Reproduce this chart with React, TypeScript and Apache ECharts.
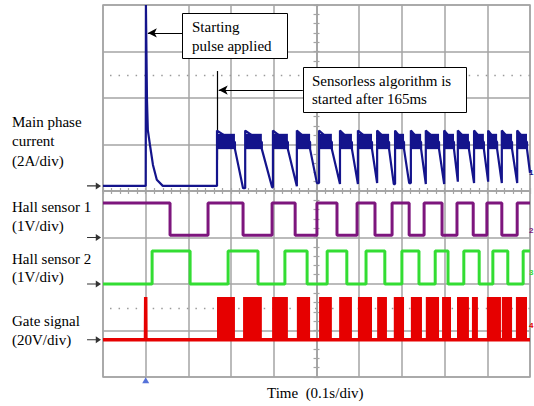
import React, { useEffect, useRef } from "react";
import * as echarts from "echarts";

// Time axis in ms (0.1 s/div, 10 div), vertical axis in divisions (0..8)
const timeTicksMs = [0, 100, 200, 300, 400, 500, 600, 700, 800, 900, 1000];

// Channel 1 – main phase current (blue)
const blueBase = 4.11;
const spikeT = [100, 100.5, 103, 105, 110, 117, 126, 140];
const spikeV = [4.11, 8, 5.96, 5.31, 4.99, 4.56, 4.24, 4.11];
const pulseStart = [267, 333, 398, 454, 506, 555, 597, 642, 684, 721, 756, 799, 831, 869, 902, 934, 970];
const pulseEnd = [309, 372, 433, 485, 536, 583, 630, 670, 705, 745, 787, 822, 857, 892, 923, 958, 993];
const decayEnd = [328, 396, 454, 501, 555, 597, 642, 681, 717, 756, 799, 831, 869, 902, 934, 970, 1000];
const decayBottom = [4.06, 4.08, 4.1, 4.17, 4.15, 4.15, 4.17, 4.15, 4.17, 4.15, 4.15, 4.2, 4.17, 4.2, 4.17, 4.17, 4.39];
const pulsePeak = 5.3;
const pulseBandHigh = 5.23;
const pulseBandLow = 4.9;

// Channel 2 – Hall sensor 1 (purple), starts high
const purpleHigh = 3.74;
const purpleLow = 3.05;
const purpleEdges = [157, 246, 328, 396, 450, 501, 548, 595, 637, 677, 717, 752, 794, 829, 867, 899, 934, 970];

// Channel 3 – Hall sensor 2 (green), starts low
const greenHigh = 2.71;
const greenLow = 2.0;
const greenEdges = [115, 204, 293, 363, 426, 478, 525, 571, 616, 660, 700, 740, 778, 808, 845, 881, 913, 948, 984];

// Channel 4 – gate signal (red)
const redBase = 0.8;
const redTop = 1.72;
const redBurstStart = [267, 328, 396, 454, 506, 553, 597, 642, 681, 721, 756, 794, 829, 864, 899, 934, 967];
const redBurstEnd = [309, 372, 433, 485, 536, 583, 630, 665, 705, 747, 787, 815, 857, 878, 932, 958, 993];

// ground-level markers (left arrows) and dotted reference levels
const groundLevels = [blueBase, 3.0, 2.0, redBase];
const dottedLevels = [6.5, 1.48];

const BLUE = "#14148c";
const PURPLE = "#7d167d";
const GREEN = "#33dd33";
const RED = "#e60000";
const GRID = "#a4a4a4";
const FONT = "Liberation Serif";

function stepTrace(edges: number[], startHigh: boolean, hi: number, lo: number) {
  const pts: number[][] = [];
  let level = startHigh ? hi : lo;
  pts.push([0, level]);
  edges.forEach((t) => {
    pts.push([t, level]);
    level = level === hi ? lo : hi;
    pts.push([t, level]);
  });
  pts.push([1000, level]);
  return pts;
}

function blueTrace() {
  const pts: number[][] = [[0, blueBase]];
  spikeT.forEach((t, i) => pts.push([t, spikeV[i]]));
  pulseStart.forEach((s, i) => {
    const prev = i === 0 ? blueBase : decayBottom[i - 1];
    pts.push([s, prev]);
    pts.push([s, pulsePeak]);
    pts.push([pulseEnd[i], 5.05]);
    pts.push([pulseEnd[i], pulseBandLow]);
    pts.push([decayEnd[i], decayBottom[i]]);
  });
  return pts;
}

function redTrace() {
  return [
    [0, redBase],
    [99.5, redBase],
    [100, redTop],
    [100.5, redBase],
    [1000, redBase],
  ];
}

const rectRender = (color: string) => (params: any, api: any) => {
  const p0 = api.coord([api.value(0), api.value(3)]);
  const p1 = api.coord([api.value(1), api.value(2)]);
  return {
    type: "rect",
    shape: { x: p0[0], y: p0[1], width: p1[0] - p0[0], height: p1[1] - p0[1] },
    style: { fill: color },
  };
};

const arrowPath = "path://M0,4.4 L10,4.4 L10,1 L16,5 L10,9 L10,5.6 L0,5.6 Z";

function text(x: number, y: number, t: string, extra: any = {}) {
  return {
    type: "text",
    x,
    y,
    z: 110,
    style: {
      text: t,
      fill: "#000",
      fontFamily: FONT,
      fontSize: 15,
      verticalAlign: "middle",
      ...extra,
    },
  };
}

export default function App() {
  const ref = useRef<HTMLDivElement>(null);
  useEffect(() => {
    if (!ref.current) return;
    const chart = echarts.init(ref.current, null, { renderer: "svg" });
    const hiddenAxis = {
      axisLabel: { show: false },
      splitLine: { show: false },
    };
    const centerAxisLine = { show: true, onZero: true, lineStyle: { color: GRID, width: 1.5 } };
    const centerTick = { show: true, length: 3, lineStyle: { color: GRID, width: 1.2 } };
    const option: any = {
      animation: false,
      backgroundColor: "#fff",
      grid: [
        { left: 103, top: 5, width: 427, height: 372, show: true, borderColor: GRID, borderWidth: 1.5, backgroundColor: "transparent" },
        { left: 103, top: 5, width: 427, height: 372 },
      ],
      xAxis: [
        {
          gridIndex: 0, type: "value", min: timeTicksMs[0], max: timeTicksMs[timeTicksMs.length - 1], interval: 100,
          axisLine: { show: false }, axisTick: { show: false }, axisLabel: { show: false },
          splitLine: { show: true, lineStyle: { color: GRID, width: 1.5 } },
        },
        { gridIndex: 1, type: "value", min: -500, max: 500, interval: 20, position: "bottom", axisLine: centerAxisLine, axisTick: centerTick, ...hiddenAxis },
        { gridIndex: 1, type: "value", min: -500, max: 500, interval: 20, position: "top", axisLine: centerAxisLine, axisTick: centerTick, ...hiddenAxis },
      ],
      yAxis: [
        {
          gridIndex: 0, type: "value", min: 0, max: 8, interval: 1,
          axisLine: { show: false }, axisTick: { show: false }, axisLabel: { show: false },
          splitLine: { show: true, lineStyle: { color: GRID, width: 1.5 } },
        },
        { gridIndex: 1, type: "value", min: -4, max: 4, interval: 0.2, position: "left", axisLine: centerAxisLine, axisTick: centerTick, ...hiddenAxis },
        { gridIndex: 1, type: "value", min: -4, max: 4, interval: 0.2, position: "right", axisLine: centerAxisLine, axisTick: centerTick, ...hiddenAxis },
      ],
      series: [
        {
          type: "line", xAxisIndex: 0, yAxisIndex: 0, data: stepTrace(purpleEdges, true, purpleHigh, purpleLow),
          showSymbol: false, lineStyle: { color: PURPLE, width: 3 }, z: 5,
        },
        {
          type: "line", xAxisIndex: 0, yAxisIndex: 0, data: stepTrace(greenEdges, false, greenHigh, greenLow),
          showSymbol: false, lineStyle: { color: GREEN, width: 3 }, z: 5,
        },
        {
          type: "custom", xAxisIndex: 0, yAxisIndex: 0,
          data: redBurstStart.map((s, i) => [s, redBurstEnd[i], redBase, redTop]),
          encode: { x: [0, 1], y: [2, 3] },
          renderItem: rectRender(RED), z: 5,
        },
        {
          type: "line", xAxisIndex: 0, yAxisIndex: 0, data: redTrace(),
          showSymbol: false, lineStyle: { color: RED, width: 3.5 }, z: 5,
          markLine: {
            silent: true, symbol: "none", label: { show: false },
            lineStyle: { color: "#9a9a9a", width: 1.3, type: [1.5, 7.04], dashOffset: -7.5 },
            data: dottedLevels.map((v) => ({ yAxis: v })),
          },
        },
        {
          type: "custom", xAxisIndex: 0, yAxisIndex: 0,
          data: pulseStart.map((s, i) => [s, pulseEnd[i], pulseBandLow, pulseBandHigh]),
          encode: { x: [0, 1], y: [2, 3] },
          renderItem: rectRender(BLUE), z: 6,
        },
        {
          type: "line", xAxisIndex: 0, yAxisIndex: 0, data: blueTrace(),
          showSymbol: false, lineStyle: { color: BLUE, width: 2.2 }, z: 6,
          markLine: {
            silent: true, symbol: ["none", "arrow"], symbolSize: [7, 9], label: { show: false },
            lineStyle: { color: "#000", width: 1.2, type: "solid" },
            data: [
              [{ coord: [185, 7.4] }, { coord: [105, 7.4] }],
              [{ coord: [468, 6.17] }, { coord: [271, 6.17] }],
              [{ coord: [267, 6.58], symbol: "none" }, { coord: [267, 4.67], symbol: "none" }],
            ],
          },
        },
        {
          type: "scatter", xAxisIndex: 0, yAxisIndex: 0, clip: false, silent: true,
          data: groundLevels.map((v) => [-21, v]),
          symbol: arrowPath, symbolSize: [14, 7], itemStyle: { color: "#000" }, z: 7,
        },
        {
          type: "scatter", xAxisIndex: 0, yAxisIndex: 0, clip: false, silent: true,
          data: [[spikeT[0], -0.07]],
          symbol: "triangle", symbolSize: [7, 6], itemStyle: { color: "#2a4fd0" }, z: 7,
        },
      ],
      graphic: [
        text(12, 122, "Main phase"),
        text(12, 141, "current"),
        text(12, 161, "(2A/div)"),
        text(12, 207, "Hall sensor 1"),
        text(12, 226, "(1V/div)"),
        text(12, 259, "Hall sensor 2"),
        text(12, 277, "(1V/div)"),
        text(12, 321, "Gate signal"),
        text(12, 340, "(20V/div)"),
        text(267, 393, "Time  (0.1s/div)"),
        {
          type: "rect", z: 100,
          shape: { x: 182.5, y: 13.5, width: 105, height: 45 },
          style: { fill: "#fff", stroke: "#000", lineWidth: 1 },
        },
        text(192, 27, "Starting"),
        text(192, 46, "pulse applied"),
        {
          type: "rect", z: 100,
          shape: { x: 303.5, y: 67.5, width: 163, height: 45 },
          style: { fill: "#fff", stroke: "#000", lineWidth: 1 },
        },
        text(312, 81, "Sensorless algorithm is"),
        text(312, 99, "started after 165ms"),
        text(529, 172, "1", { fill: BLUE, fontFamily: "Liberation Sans", fontSize: 8, fontWeight: "bold" }),
        text(529, 230, "2", { fill: PURPLE, fontFamily: "Liberation Sans", fontSize: 8, fontWeight: "bold" }),
        text(529, 272, "3", { fill: GREEN, fontFamily: "Liberation Sans", fontSize: 8, fontWeight: "bold" }),
        text(529, 325, "4", { fill: RED, fontFamily: "Liberation Sans", fontSize: 8, fontWeight: "bold" }),
      ],
    };
    chart.setOption(option);
    return () => chart.dispose();
  }, []);
  return (
    <div
      ref={ref}
      style={{ position: "fixed", left: 0, top: 0, width: 534, height: 406, background: "#fff" }}
    />
  );
}
